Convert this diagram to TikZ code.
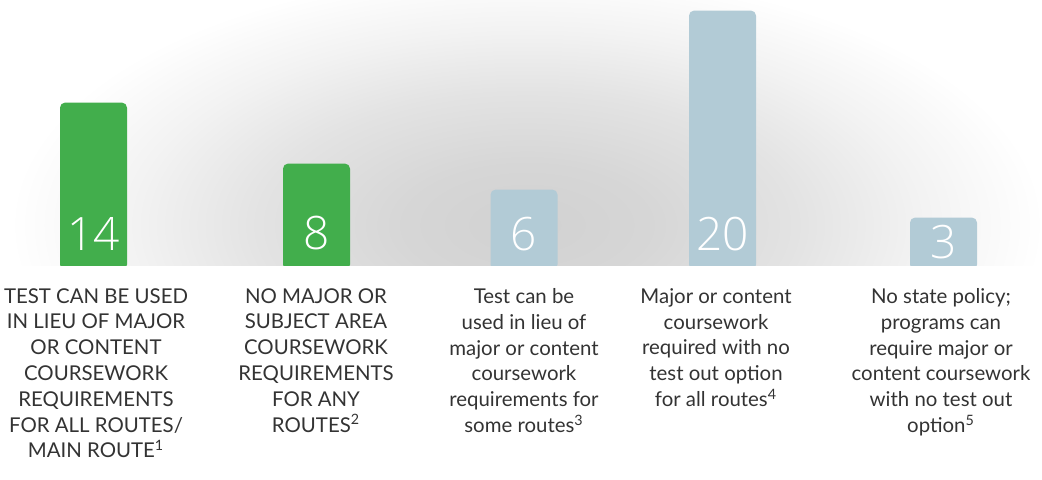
\documentclass[tikz,border=0pt]{standalone}
\usepackage{fontspec}
\setmainfont{Lato}
\newfontfamily\numfont{Open Sans}[UprightFont={* Light}]
\definecolor{bargreen}{HTML}{42AE4C}
\definecolor{barblue}{HTML}{B2CBD6}
\definecolor{labelgray}{HTML}{333333}
\pgfdeclareradialshading{glow}{\pgfpoint{0bp}{0bp}}{color(0bp)=(black!18); color(6bp)=(black!16); color(13bp)=(black!11); color(19bp)=(black!5); color(25bp)=(white); color(50bp)=(white)}

\begin{document}
\begin{tikzpicture}[x=0.5pt, y=-0.5pt,
			bar/.style={rectangle, rounded corners=2.5pt, minimum width=33.5pt, inner sep=0pt, anchor=south},
			num/.style={font=\numfont\fontsize{23}{23}\selectfont, text=white, anchor=base, inner sep=0pt},
			caption/.style={font=\fontsize{10.2}{12.9}\selectfont, text=labelgray, align=center, anchor=north, inner sep=0pt},
		]
		\useasboundingbox (0,0) rectangle (1042,479);

		% grey glow behind the bars
		\begin{scope}
		\clip (0,0) rectangle (1042,266);
		\shade[shading=glow] (10,-30) rectangle (1044,480);
		\end{scope}

		\node[bar, fill=bargreen, minimum height=83.5pt] (bar-a) at (93.5,270) {};
		\node[bar, fill=bargreen, minimum height=53pt] (bar-b) at (316.5,270) {};
		\node[bar, fill=barblue, minimum height=40pt] (bar-c) at (524,270) {};
		\node[bar, fill=barblue, minimum height=129.5pt] (bar-d) at (722.5,270) {};
		\node[bar, fill=barblue, minimum height=26pt] (bar-e) at (943.5,270) {};
		\fill[white] (0,266) rectangle (1042,479);

		\node[num] (num-a) at (93.5,250) {14};
		\node[num] (num-b) at (316.5,249) {8};
		\node[num] (num-c) at (524,250) {6};
		\node[num] (num-d) at (722.5,250) {20};
		\node[num] (num-e) at (943.5,258) {3};

		\node[caption] (cap-a) at (96,288) {TEST CAN BE USED\\IN LIEU OF MAJOR\\OR CONTENT\\COURSEWORK\\REQUIREMENTS\\FOR ALL ROUTES/\\MAIN ROUTE\textsuperscript{1}};
		\node[caption] (cap-b) at (316,288) {NO MAJOR OR\\SUBJECT AREA\\COURSEWORK\\REQUIREMENTS\\FOR ANY\\ROUTES\textsuperscript{2}};
		\node[caption] (cap-c) at (524,288) {Test can be\\used in lieu of\\major or content\\coursework\\requirements for\\some routes\textsuperscript{3}};
		\node[caption] (cap-d) at (716,288) {Major or content\\coursework\\required with no\\test out option\\for all routes\textsuperscript{4}};
		\node[caption] (cap-e) at (941,288) {No state policy;\\programs can\\require major or\\content coursework\\with no test out\\option\textsuperscript{5}};

		\end{tikzpicture}
\end{document}
